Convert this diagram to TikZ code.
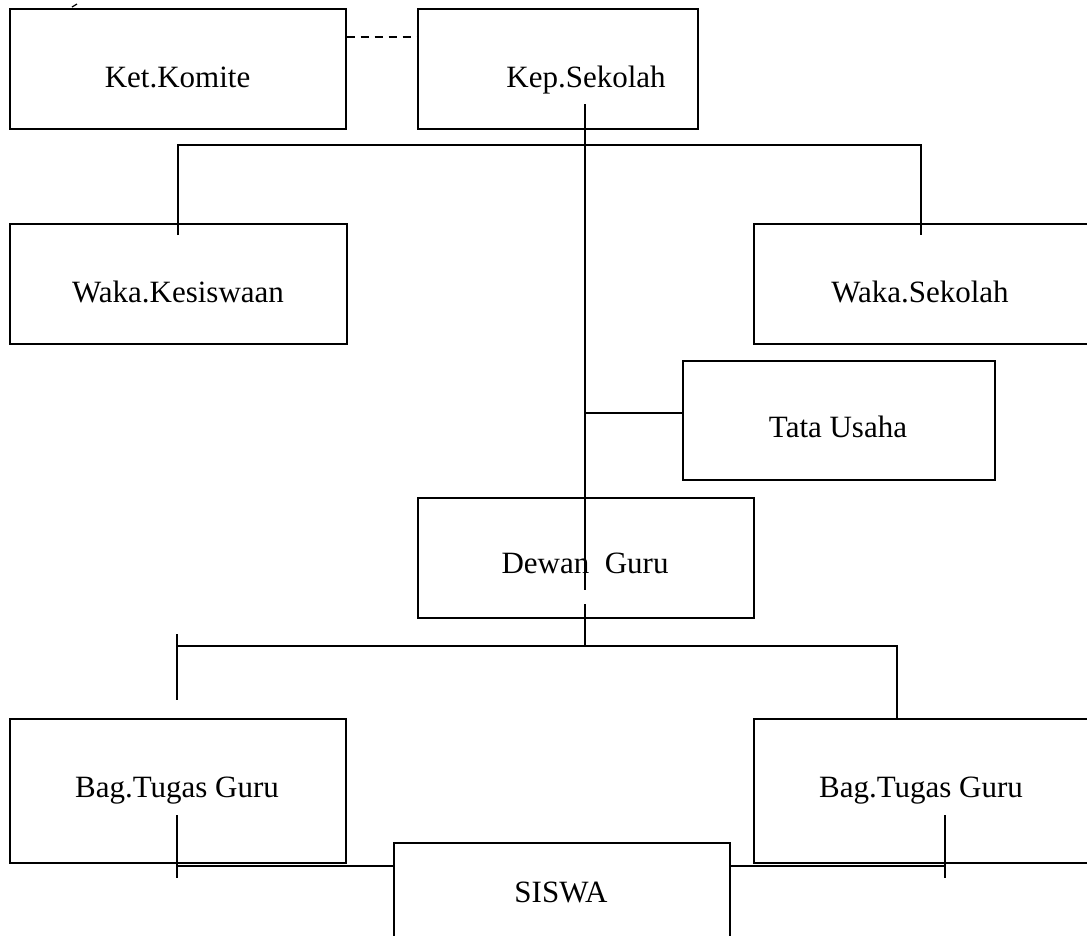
\documentclass[tikz,border=0pt]{standalone}
\usepackage{fontspec}
\setmainfont{Liberation Serif}
\begin{document}
\begin{tikzpicture}[x=1pt,y=-1pt,
  box/.style={draw,line width=1.6pt,rectangle,inner sep=0pt,anchor=north west},
  lbl/.style={anchor=base,inner sep=0pt,font=\fontsize{31}{37}\selectfont},
  conn/.style={line width=1.5pt}]
\useasboundingbox (0,0) rectangle (1087,935);
% boxes
\node[box,minimum width=336pt,minimum height=120pt] (ket) at (9,8) {};
\node[box,minimum width=280pt,minimum height=120pt] (kep) at (417,8) {};
\node[box,minimum width=337pt,minimum height=120pt] (wakak) at (9,223) {};
\node[box,minimum width=347pt,minimum height=120pt] (wakas) at (753,223) {};
\node[box,minimum width=312pt,minimum height=119pt] (tata) at (682,360) {};
\node[box,minimum width=336pt,minimum height=120pt] (dewan) at (417,497) {};
\node[box,minimum width=336pt,minimum height=144pt] (bagl) at (9,718) {};
\node[box,minimum width=347pt,minimum height=144pt] (bagr) at (753,718) {};
\node[box,minimum width=336pt,minimum height=110pt] (siswa) at (393,842) {};
% labels
\node[lbl] (tket) at (177.5,87) {Ket.Komite};
\node[lbl] (tkep) at (586,87) {Kep.Sekolah};
\node[lbl] (twakak) at (178,302) {Waka.Kesiswaan};
\node[lbl] (twakas) at (920,302) {Waka.Sekolah};
\node[lbl] (ttata) at (838,437) {Tata Usaha};
\node[lbl] (tdewan) at (585,573) {Dewan\ \ Guru};
\node[lbl] (tbagl) at (177,797) {Bag.Tugas Guru};
\node[lbl] (tbagr) at (921,797) {Bag.Tugas Guru};
\node[lbl] (tsiswa) at (561,902) {SISWA};
% coordinates
\coordinate (c0) at (585,104);
\coordinate (c1) at (585,145);
\coordinate (bl) at (178,145);
\coordinate (br) at (921,145);
\coordinate (bld) at (178,235);
\coordinate (brd) at (921,235);
\coordinate (ct) at (585,413);
\coordinate (cg1) at (585,590);
\coordinate (cg2) at (585,604);
\coordinate (c2) at (585,646);
\coordinate (l2) at (177,646);
\coordinate (l2t) at (177,634);
\coordinate (l2b) at (177,700);
\coordinate (r2) at (897,646);
\coordinate (lb1) at (177,815);
\coordinate (lb2) at (177,878);
\coordinate (lbm) at (177,866);
\coordinate (rb1) at (945,815);
\coordinate (rb2) at (945,878);
\coordinate (rbm) at (945,866);
\coordinate (tk1) at (72,7);
\coordinate (tk2) at (77,4);
% connectors
\draw[conn,dashed,dash pattern=on 8pt off 6pt] (ket.east |- 0,37) -- (kep.west |- 0,37);
\draw[line width=1.2pt] (tk1) -- (tk2);
\draw[conn] (c0) -- (cg1);
\draw[conn] (cg2) -- (c2);
\draw[conn] (bld) -- (bl) -- (br) -- (brd);
\draw[conn] (ct) -- (tata.west |- ct);
\draw[conn] (l2t) -- (l2b);
\draw[conn] (l2) -- (r2) -- (bagr.north -| r2);
\draw[conn] (lb1) -- (lb2);
\draw[conn] (lbm) -- (siswa.west |- lbm);
\draw[conn] (rb1) -- (rb2);
\draw[conn] (siswa.east |- rbm) -- (rbm);
\end{tikzpicture}
\end{document}
